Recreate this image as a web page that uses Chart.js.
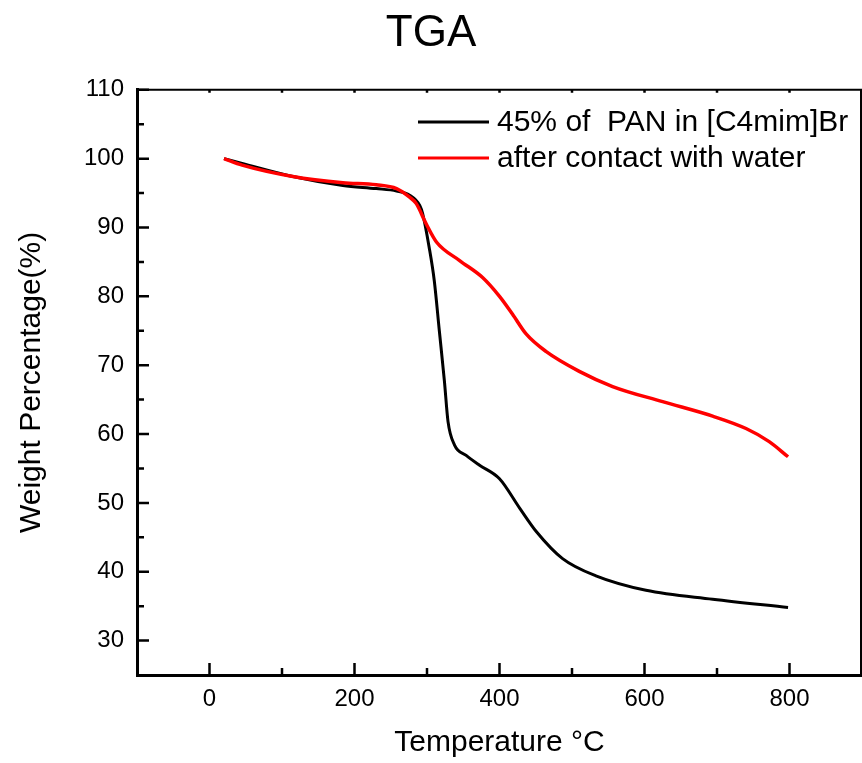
<!DOCTYPE html>
<html>
<head>
<meta charset="utf-8">
<script src="https://cdn.jsdelivr.net/npm/chart.js@4.4.1/dist/chart.umd.min.js"></script>
<style>
  body { margin: 0; background: #fff; }
  #wrap { width: 862px; height: 763px; position: relative; }
</style>
</head>
<body>
<div id="wrap"><canvas id="tgaChart"></canvas></div>
<script>
// TGA curves (temperature in °C, weight in %)
const pureTemp = [20, 45, 115, 184, 230, 258, 276, 290, 294, 303, 310, 317, 324, 329, 338, 354, 372, 400, 428, 451, 487, 533, 602, 694, 798];
const pureWeight = [100, 99.3, 97.4, 96.1, 95.65, 95.3, 94.7, 93.2, 92.0, 87.1, 82.3, 75.0, 67.7, 61.8, 58.4, 56.9, 55.5, 53.5, 49.2, 45.8, 41.9, 39.4, 37.3, 36.0, 34.8];

const waterTemp = [20, 45, 115, 184, 230, 258, 276, 285, 299, 313, 345, 377, 400, 418, 437, 464, 510, 556, 625, 694, 740, 772, 798];
const waterWeight = [100, 99.05, 97.4, 96.5, 96.2, 95.65, 94.4, 93.5, 90.5, 87.9, 85.2, 82.7, 80.0, 77.4, 74.5, 72.0, 69.1, 66.9, 64.7, 62.6, 60.8, 58.9, 56.7];

const seriesLabels = ['45% of  PAN in [C4mim]Br', 'after contact with water'];
const xTickLabels = [0, 200, 400, 600, 800];
const yTickLabels = [30, 40, 50, 60, 70, 80, 90, 100, 110];

const FONT = "'Liberation Sans', Arial, sans-serif";

function toPoints(xs, ys) {
    return xs.map((x, i) => ({ x: x, y: ys[i] }));
}

// Legend drawn inside the plot, lines + text left aligned
const insideLegend = {
    id: 'insideLegend',
    afterDraw(chart) {
        const ctx = chart.ctx;
        const x0 = 418, lineLen = 71, textX = 497;
        const rows = [122, 158];
        ctx.save();
        ctx.font = '30px ' + FONT;
        ctx.textBaseline = 'middle';
        ctx.textAlign = 'left';
        chart.data.datasets.forEach((ds, i) => {
            const y = rows[i];
            ctx.strokeStyle = ds.borderColor;
            ctx.lineWidth = 3;
            ctx.beginPath();
            ctx.moveTo(x0, y);
            ctx.lineTo(x0 + lineLen, y);
            ctx.stroke();
            ctx.fillStyle = '#000';
            ctx.fillText(ds.label, textX, y + 1);
        });
        ctx.restore();
    }
};

// Inward tick marks and top/right frame
const frameTicks = {
    id: 'frameTicks',
    afterDraw(chart) {
        const ctx = chart.ctx;
        const a = chart.chartArea;
        const xs = chart.scales.x, ys = chart.scales.y;
        ctx.save();
        ctx.strokeStyle = '#000';
        ctx.lineWidth = 2;
        ctx.beginPath();
        ctx.moveTo(a.left, a.top);
        ctx.lineTo(a.right, a.top);
        ctx.moveTo(a.right - 1, a.top);
        ctx.lineTo(a.right - 1, a.bottom);
        ctx.stroke();

        ctx.lineWidth = 2.5;
        ctx.beginPath();
        for (let v = 0; v <= 800; v += 100) {
            const px = xs.getPixelForValue(v);
            const len = v % 200 === 0 ? 12 : 7;
            ctx.moveTo(px, a.bottom);
            ctx.lineTo(px, a.bottom - len);
            ctx.moveTo(px, a.top);
            ctx.lineTo(px, a.top + 3);
        }
        for (let v = 30; v <= 110; v += 5) {
            const py = ys.getPixelForValue(v);
            const len = v % 10 === 0 ? 12 : 7;
            ctx.moveTo(a.left, py);
            ctx.lineTo(a.left + len, py);
        }
        ctx.stroke();
        ctx.restore();
    }
};

const ctx = document.getElementById('tgaChart').getContext('2d');

new Chart(ctx, {
    type: 'line',
    data: {
        datasets: [
            {
                label: seriesLabels[0],
                data: toPoints(pureTemp, pureWeight),
                borderColor: '#000000',
                borderWidth: 3,
                order: 1
            },
            {
                label: seriesLabels[1],
                data: toPoints(waterTemp, waterWeight),
                borderColor: '#ff0000',
                borderWidth: 3.5,
                order: 0
            }
        ]
    },
    options: {
        responsive: true,
        maintainAspectRatio: false,
        animation: false,
        layout: { padding: 0 },
        elements: {
            point: { radius: 0 },
            line: { cubicInterpolationMode: 'monotone', fill: false }
        },
        plugins: {
            legend: { display: false },
            tooltip: { enabled: false },
            title: {
                display: true,
                text: 'TGA',
                color: '#000',
                font: { family: FONT, size: 44, weight: 'normal' },
                padding: { top: 7, bottom: 30 }
            }
        },
        scales: {
            x: {
                type: 'linear',
                min: -100,
                max: 900,
                afterFit: s => { s.height = 88; s.paddingLeft = 0; s.paddingRight = 0; },
                grid: { display: false, drawTicks: false },
                border: { display: true, color: '#000', width: 3 },
                ticks: {
                    stepSize: 100,
                    padding: 10,
                    color: '#000',
                    font: { family: FONT, size: 24 },
                    maxRotation: 0,
                    autoSkip: false,
                    callback: v => xTickLabels.includes(v) ? String(v) : ''
                },
                title: {
                    display: true,
                    text: 'Temperature °C',
                    color: '#000',
                    font: { family: FONT, size: 30 },
                    padding: { top: 0, bottom: 2 }
                }
            },
            y: {
                min: 25,
                max: 110,
                afterFit: s => { s.width = 137; s.paddingTop = 0; s.paddingBottom = 0; },
                grid: { display: false, drawTicks: false },
                border: { display: true, color: '#000', width: 3 },
                ticks: {
                    stepSize: 5,
                    padding: 13,
                    color: '#000',
                    font: { family: FONT, size: 24 },
                    autoSkip: false,
                    callback: v => yTickLabels.includes(v) ? String(v) : ''
                },
                title: {
                    display: true,
                    text: 'Weight Percentage(%)',
                    color: '#000',
                    font: { family: FONT, size: 30 },
                    padding: { top: 14, bottom: 0 }
                }
            }
        }
    },
    plugins: [insideLegend, frameTicks]
});
</script>
</body>
</html>
